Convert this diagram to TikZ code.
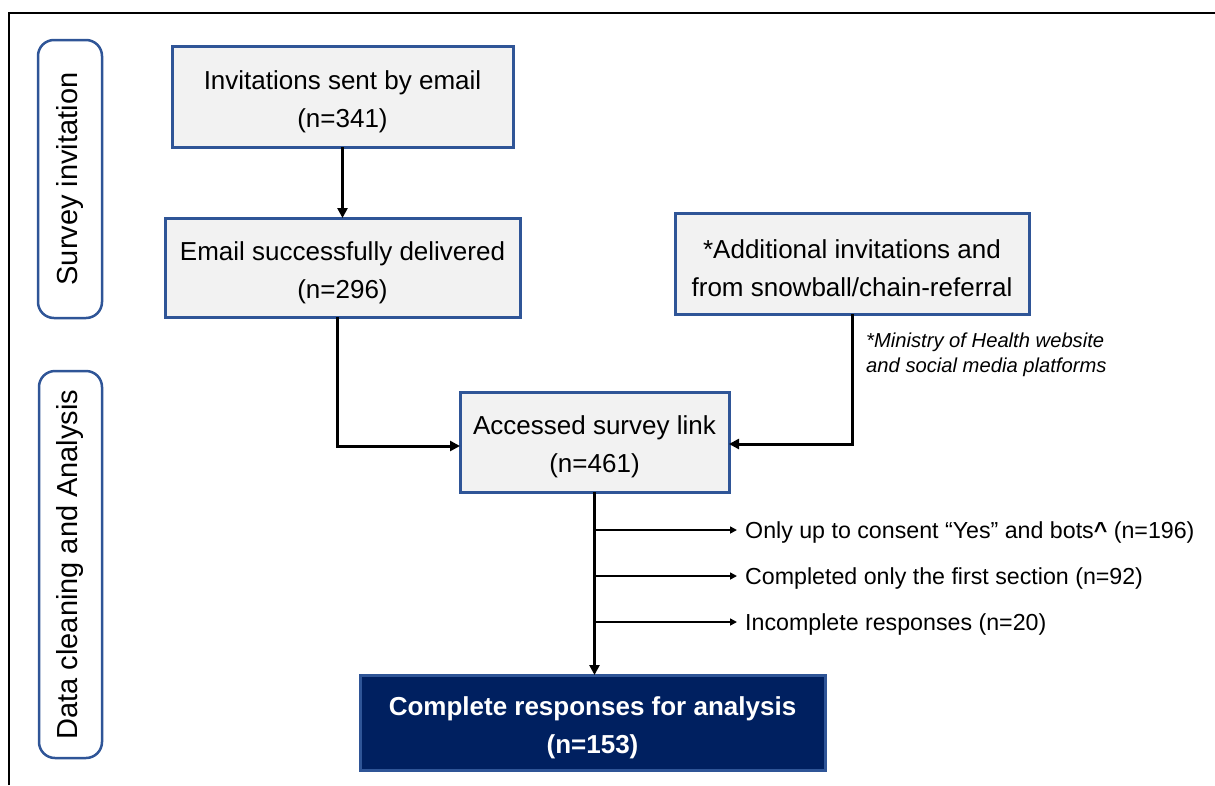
\documentclass[tikz,border=0pt]{standalone}
\usepackage{fontspec}
\setmainfont{Liberation Sans}
\usetikzlibrary{arrows.meta}
\definecolor{boxblue}{HTML}{2F5597}
\definecolor{boxfill}{HTML}{F2F2F2}
\definecolor{navyfill}{HTML}{002060}
\newcommand{\topfix}{\rule{0pt}{29pt}}
\begin{document}
\begin{tikzpicture}[x=1pt,y=-1pt,
  flowbox/.style={draw=boxblue, fill=boxfill, line width=3pt, inner sep=0pt, outer sep=0pt,
    align=center, font=\fontsize{26}{38}\selectfont},
  finalbox/.style={flowbox, fill=navyfill, text=white, font=\fontsize{26}{38}\selectfont\bfseries},
  phase/.style={draw=boxblue, line width=2.5pt, rounded corners=16pt, inner sep=0pt, outer sep=0pt,
    font=\fontsize{29}{35}\selectfont},
  mainarrow/.style={line width=3pt, -{Triangle[length=10pt,width=10pt]}},
  sidearrow/.style={line width=1.6pt, -{Triangle[length=7pt,width=7pt]}},
  excl/.style={anchor=base west, inner sep=0pt, font=\fontsize{23.2}{28}\selectfont},
  note/.style={anchor=north west, inner sep=0pt, align=left, font=\fontsize{20.2}{25}\selectfont\itshape},
]
\useasboundingbox (0,0) rectangle (1215,785);
\draw[line width=2.5pt] (9,785) -- (9,13) -- (1215,13);

\node[phase, minimum width=64pt, minimum height=278pt] (phase1) at (70,179) {\rotatebox{90}{Survey invitation}};
\node[phase, minimum width=63pt, minimum height=387pt] (phase2) at (70.5,564.5) {\rotatebox{90}{Data cleaning and Analysis}};

\node[flowbox, minimum width=341pt, minimum height=101pt] (inv) at (342.5,96.5) {\topfix Invitations sent by email\\(n=341)};
\node[flowbox, minimum width=355pt, minimum height=99pt] (email) at (342.5,267.5) {\topfix Email successfully delivered\\(n=296)};
\node[flowbox, minimum width=354pt, minimum height=101pt] (add) at (852,263.5) {\topfix *Additional invitations and\\from snowball/chain-referral};
\node[flowbox, minimum width=269pt, minimum height=100pt] (acc) at (594.5,442) {\topfix Accessed survey link\\(n=461)};
\node[finalbox, minimum width=465pt, minimum height=95pt] (comp) at (592.5,722.5) {\topfix Complete responses for analysis\\(n=153)};

\node[note] (mnote) at (866,333) {*Ministry of Health website\\and social media platforms};

\node[excl] (x1) at (745,538) {Only up to consent “Yes” and bots{\bfseries\char94} (n=196)};
\node[excl] (x2) at (745,584) {Completed only the first section (n=92)};
\node[excl] (x3) at (745,630) {Incomplete responses (n=20)};

\coordinate (t1) at (737,530);
\coordinate (t2) at (737,576);
\coordinate (t3) at (737,622);

\draw[mainarrow] (inv.south) -- (email.north);
\draw[mainarrow] ([xshift=-5pt]email.south) |- ([yshift=-4pt]acc.west);
\draw[mainarrow] (add.south) |- ([yshift=-2pt]acc.east);
\draw[mainarrow] (acc.south) -- (acc.south |- comp.north);
\draw[sidearrow] (acc.south |- t1) -- (t1);
\draw[sidearrow] (acc.south |- t2) -- (t2);
\draw[sidearrow] (acc.south |- t3) -- (t3);
\end{tikzpicture}
\end{document}
